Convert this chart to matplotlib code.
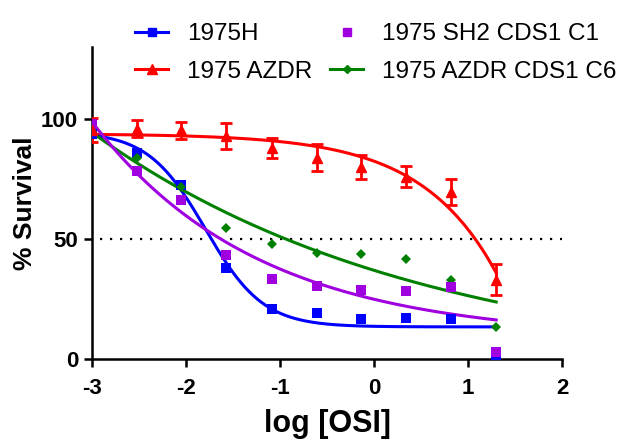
import numpy as np
import matplotlib
matplotlib.use("Agg")
import matplotlib.pyplot as plt
from matplotlib.lines import Line2D

plt.rcParams["font.family"] = ["Liberation Sans", "DejaVu Sans"]
plt.rcParams["axes.unicode_minus"] = False

# log10 of OSI concentration (3-fold dilutions)
log_osi = [-3.0, -2.52, -2.05, -1.57, -1.09, -0.61, -0.14, 0.34, 0.82, 1.30]

# % survival per cell line
surv_1975h = [94, 86, 72.5, 38, 20.8, 19.3, 16.5, 17, 16.7, 0.5]
surv_azdr = [95.5, 96, 95.4, 93, 88, 84, 80, 76, 69.7, 33]
err_azdr = [5, 3.5, 3.5, 5.4, 4, 5.5, 5, 4.5, 5.3, 6.5]
surv_sh2_c1 = [98, 78.5, 66.3, 43.5, 33.2, 30.6, 28.7, 28.3, 30, 3]
surv_azdr_c6 = [95, 84, 71.5, 54.8, 47.9, 44.2, 43.6, 41.5, 33, 13.5]

BLUE = "#0000FF"
RED = "#FF0000"
PURPLE = "#A000E0"
GREEN = "#008000"


def four_pl(x, bottom, top, log_ic50, hill):
    return bottom + (top - bottom) / (1 + 10 ** ((x - log_ic50) * hill))


def fit_four_pl(x, y, n_iter=400):
    # plain Levenberg-Marquardt on the 4-parameter logistic
    x = np.asarray(x, float)
    y = np.asarray(y, float)
    mid = (y.max() + y.min()) / 2
    p = np.array([y.min(), y.max(), x[np.argmin(abs(y - mid))], 1.0])

    def resid(q):
        with np.errstate(over="ignore"):
            return four_pl(x, *q) - y

    r = resid(p)
    cost = r @ r
    lam = 1e-2
    for _ in range(n_iter):
        J = np.empty((len(x), 4))
        for k in range(4):
            dp = np.zeros(4)
            dp[k] = 1e-6 * max(1.0, abs(p[k]))
            J[:, k] = (resid(p + dp) - r) / dp[k]
        A = J.T @ J
        g = J.T @ r
        try:
            step = np.linalg.solve(A + lam * np.diag(np.diag(A) + 1e-9), -g)
        except np.linalg.LinAlgError:
            lam *= 10
            continue
        p_new = p + step
        r_new = resid(p_new)
        c_new = r_new @ r_new
        if np.isfinite(c_new) and c_new < cost:
            p, r, cost = p_new, r_new, c_new
            lam *= 0.3
        else:
            lam *= 10
    return p


fig = plt.figure(figsize=(6.39, 4.41), dpi=100)
ax = fig.add_axes([0.144, 0.186, 0.7355, 0.707])

x_fit = np.linspace(min(log_osi), max(log_osi), 300)

series = [
    (surv_azdr, RED, "^", 7.5, "1975 AZDR"),
    (surv_1975h, BLUE, "s", 7, "1975H"),
    (surv_azdr_c6, GREEN, "D", 5.5, "1975 AZDR CDS1 C6"),
    (surv_sh2_c1, PURPLE, "s", 7, "1975 SH2 CDS1 C1"),
]

for vals, col, mk, ms, name in series:
    params = fit_four_pl(log_osi, vals)
    ax.plot(x_fit, four_pl(x_fit, *params), color=col, lw=2.2, zorder=2)
    if name == "1975 AZDR":
        ax.errorbar(log_osi, vals, yerr=err_azdr, fmt=mk, color=col, ms=ms,
                    capsize=4, elinewidth=2, capthick=2, zorder=3)
    else:
        ax.plot(log_osi, vals, mk, color=col, ms=ms, mew=0, zorder=3)

# 50% reference line
ax.hlines(50, -2.92, 2, colors="black", linestyles=(0, (1, 3.5)), lw=1.6, zorder=1)

ax.set_xlim(-3, 2)
ax.set_ylim(0, 130)
ax.set_xticks([-3, -2, -1, 0, 1, 2])
ax.set_yticks([0, 50, 100])
for side in ["top", "right"]:
    ax.spines[side].set_visible(False)
for side in ["left", "bottom"]:
    ax.spines[side].set_linewidth(1.8)
ax.tick_params(axis="both", direction="out", length=6, width=1.8, labelsize=16)
ax.tick_params(axis="x", pad=8)
ax.tick_params(axis="y", pad=4)
for lbl in ax.get_xticklabels() + ax.get_yticklabels():
    lbl.set_fontweight("bold")

ax.set_xlabel("log [OSI]", fontsize=22, fontweight="bold", labelpad=7)
ax.set_ylabel("% Survival", fontsize=19, fontweight="bold", labelpad=3)

handles = [
    Line2D([], [], color=BLUE, marker="s", ms=6, lw=2.2),
    Line2D([], [], color=RED, marker="^", ms=6.5, lw=2.2),
    Line2D([], [], color=PURPLE, marker="s", ms=5.5, lw=0),
    Line2D([], [], color=GREEN, marker="D", ms=4, lw=2.2),
]
labels = ["1975H", "1975 AZDR", "1975 SH2 CDS1 C1", "1975 AZDR CDS1 C6"]
fig.legend(handles, labels, loc="upper left", bbox_to_anchor=(135 / 639, 1 - 23 / 441),
           ncol=2, frameon=False, fontsize=17.5, handlelength=1.36, handletextpad=0.78,
           columnspacing=0.74, labelspacing=0.65, borderpad=0, borderaxespad=0)

fig.savefig("out.png", dpi=100)
